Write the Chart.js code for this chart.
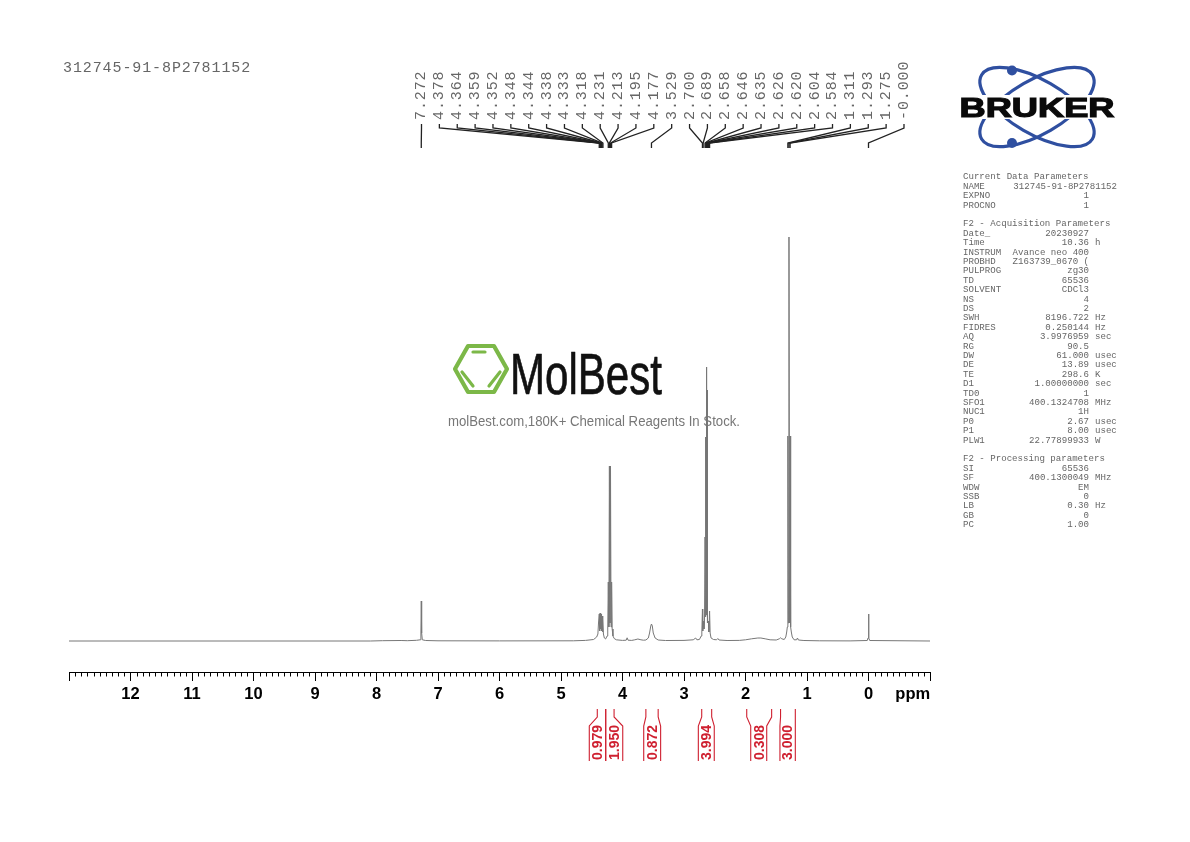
<!DOCTYPE html>
<html>
<head>
<meta charset="utf-8">
<style>html,body{margin:0;padding:0;background:#fff}canvas{display:block}</style>
<script src="https://cdn.jsdelivr.net/npm/chart.js@4/dist/chart.umd.min.js"></script>
</head>
<body>
<canvas id="c" width="1190" height="842" style="width:1190px;height:842px"></canvas>
<script>
const sampleName = "312745-91-8P2781152";
const spectrumPpm = [13,8.1,7.9,7.6,7.5,7.35,7.29,7.278,7.272,7.266,7.255,7.2,7.0,6.0,4.8,4.6,4.47,4.42,
 4.40,4.39,4.378,4.371,4.364,4.361,4.359,4.355,4.352,4.35,4.348,4.346,4.344,4.341,4.338,4.335,4.333,4.325,4.318,4.31,4.295,4.275,
 4.25,4.24,4.231,4.222,4.213,4.204,4.195,4.186,4.177,4.168,4.155,4.135,4.10,4.0,3.94,3.925,3.91,3.85,3.8,3.75,3.7,3.66,
 3.62,3.58,3.56,3.54,3.529,3.515,3.5,3.47,3.42,3.3,3.0,2.85,2.81,2.79,2.75,2.72,2.71,
 2.700,2.695,2.689,2.675,2.667,2.658,2.652,2.646,2.64,2.635,2.63,2.626,2.623,2.620,2.612,2.604,2.595,2.584,2.575,2.56,2.52,2.47,2.45,2.43,2.3,2.1,
 2.0,1.9,1.8,1.75,1.68,1.6,1.5,1.45,1.43,1.41,1.37,1.345,1.33,1.32,1.311,1.302,1.293,1.284,1.275,1.266,1.255,1.24,1.21,1.17,1.155,1.14,1.05,0.8,0.3,
 0.02,0.008,0.0,-0.008,-0.02,-1];
const spectrumIntensity = [0,0,0.3,0.5,0.3,0.7,1.2,8,40,8,1.2,0.5,0.2,0.1,0.2,0.6,1.5,4,
 7,18,27,10,28,14,28,12,27,12,26,12,27,11,26,10,25,9,22,7,3,2,
 5,12,59,14,175,18,175,14,59,12,5,2.5,1.2,0.6,0.8,3.2,0.8,0.6,1.2,2,1.2,0.8,
 1,3,8,15,17,15,8,3,1,0.5,0.6,1.2,3,1.2,1.5,5,9,
 32,10,20,12,18,104,24,204,26,274,28,251,24,131,18,20,9,30,8,3,1.5,1.2,2.5,1,0.5,0.6,
 1.2,2.2,3,3,2.2,1.2,1,2.2,3.2,2.2,1.5,4,9,14,205,18,404,18,205,14,9,4,1.2,1.2,3,1,0.5,0.2,0.1,
 0.5,3,27,3,0.5,0];

const axisTicks = [13,12,11,10,9,8,7,6,5,4,3,2,1,0,-1];
const unitLabel = "ppm";

const peakLabels = ["7.272","4.378","4.364","4.359","4.352","4.348","4.344","4.338","4.333","4.318","4.231","4.213","4.195","4.177","3.529","2.700","2.689","2.658","2.646","2.635","2.626","2.620","2.604","2.584","1.311","1.293","1.275","-0.000"];

const integralValues = ["0.979","1.950","0.872","3.994","0.308","3.000"];
const integralFrom   = [4.41,4.273,3.62,2.712,1.98,1.43];
const integralTo     = [4.273,4.137,3.42,2.55,1.575,1.19];
const bracketFrom    = [4.54,4.273,3.655,2.767,1.915,1.44];
const bracketTo      = [4.273,3.996,3.38,2.508,1.655,1.19];

const panelHead = ["Current Data Parameters"];
const panelLines = [
 ["NAME","312745-91-8P2781152","",186.4],
 ["EXPNO","1","",196],["PROCNO","1","",205.4],
 ["F2 - Acquisition Parameters",null,"",224],
 ["Date_","20230927","",233.4],["Time","10.36","h",242.8],["INSTRUM","Avance neo 400","",252.2],
 ["PROBHD","Z163739_0670 (","",261.6],["PULPROG","zg30","",271],["TD","65536","",280.4],
 ["SOLVENT","CDCl3","",289.8],["NS","4","",299.2],["DS","2","",308.6],["SWH","8196.722","Hz",318],
 ["FIDRES","0.250144","Hz",327.4],["AQ","3.9976959","sec",336.8],["RG","90.5","",346.2],
 ["DW","61.000","usec",355.6],["DE","13.89","usec",365],["TE","298.6","K",374.4],
 ["D1","1.00000000","sec",383.8],["TD0","1","",393.2],["SFO1","400.1324708","MHz",402.6],
 ["NUC1","1H","",412],["P0","2.67","usec",421.4],["P1","8.00","usec",430.8],["PLW1","22.77899933","W",440.2],
 ["F2 - Processing parameters",null,"",459],
 ["SI","65536","",468.4],["SF","400.1300049","MHz",477.8],["WDW","EM","",487.2],["SSB","0","",496.6],
 ["LB","0.30","Hz",506],["GB","0","",515.4],["PC","1.00","",524.8]
];

const ink = "#666";
const mono = '"Liberation Mono", monospace';
const sans = '"Liberation Sans", Arial, sans-serif';
const red = "#cf2030";

const decor = {
  id: "decor",
  beforeDatasetsDraw(chart){
    const ctx = chart.ctx;
    ctx.save();
    // MolBest watermark
    ctx.strokeStyle = "#7cb848"; ctx.lineJoin = "round"; ctx.lineCap = "round"; ctx.lineWidth = 4.2;
    ctx.beginPath();
    ctx.moveTo(455,369);ctx.lineTo(468,346);ctx.lineTo(494,346);ctx.lineTo(507,369);ctx.lineTo(494,392);ctx.lineTo(468,392);ctx.closePath();
    ctx.stroke();
    ctx.lineWidth = 3.2;
    ctx.beginPath();
    ctx.moveTo(473,352);ctx.lineTo(485,352);
    ctx.moveTo(462,372);ctx.lineTo(473,386);
    ctx.moveTo(500,372);ctx.lineTo(489,386);
    ctx.stroke();
    ctx.fillStyle = "#111"; ctx.strokeStyle = "#111"; ctx.lineWidth = 0.7;
    ctx.font = '58px ' + sans;
    ctx.textAlign = "left"; ctx.textBaseline = "alphabetic";
    const w = ctx.measureText("MolBest").width;
    ctx.save(); ctx.translate(510,394); ctx.scale(152/w,1); ctx.fillText("MolBest",0,0); ctx.strokeText("MolBest",0,0); ctx.restore();
    ctx.fillStyle = "#777";
    ctx.font = '13.8px ' + sans;
    ctx.textBaseline = "middle";
    ctx.fillText("molBest.com,180K+ Chemical Reagents In Stock.",448,422,292);
    ctx.restore();
  },
  afterDraw(chart){
    const ctx = chart.ctx, x = chart.scales.x, y = chart.scales.y;
    ctx.save();
    // minor ticks
    const axisPx = Math.round(y.getPixelForValue(-31));
    ctx.strokeStyle = "#000"; ctx.lineWidth = 1;
    ctx.beginPath();
    for (let i = -10; i <= 130; i++){
      if (i % 10 === 0) continue;
      const px = Math.round(x.getPixelForValue(i/10)) + 0.5;
      ctx.moveTo(px, axisPx); ctx.lineTo(px, axisPx + 4.5);
    }
    ctx.stroke();

    // sample name
    ctx.fillStyle = ink; ctx.textAlign = "left"; ctx.textBaseline = "middle";
    ctx.font = '15px ' + mono;
    ctx.letterSpacing = "0.9px";
    ctx.fillText(sampleName, 63, 68);

    // peak labels and leaders
    ctx.strokeStyle = "#222"; ctx.lineWidth = 1.3;
    peakLabels.forEach((t,i)=>{
      const lx = 421.5 + i*17.87, px = x.getPixelForValue(Math.abs(parseFloat(t)));
      ctx.beginPath();
      ctx.moveTo(lx,124);ctx.lineTo(lx,128);ctx.lineTo(px,143);ctx.lineTo(px,148);
      ctx.stroke();
      ctx.save();
      ctx.translate(lx,120); ctx.rotate(-Math.PI/2);
      ctx.textAlign = "left"; ctx.textBaseline = "middle";
      ctx.fillText(t,0,0);
      ctx.restore();
    });
    ctx.letterSpacing = "0px";

    // integrals
    ctx.strokeStyle = red; ctx.fillStyle = red; ctx.lineWidth = 1.1;
    integralValues.forEach((t,i)=>{
      const a = x.getPixelForValue(integralFrom[i]), b = x.getPixelForValue(integralTo[i]);
      const c = x.getPixelForValue(bracketFrom[i]), d = x.getPixelForValue(bracketTo[i]);
      ctx.beginPath();
      ctx.moveTo(a,709);ctx.lineTo(a,717);ctx.lineTo(c,726);ctx.lineTo(c,761);
      ctx.moveTo(b,709);ctx.lineTo(b,717);ctx.lineTo(d,726);ctx.lineTo(d,761);
      ctx.stroke();
      ctx.save();
      ctx.translate((c+d)/2,761); ctx.rotate(-Math.PI/2);
      ctx.font = 'bold 14px ' + sans;
      ctx.textAlign = "left"; ctx.textBaseline = "middle";
      ctx.fillText(t,1,1);
      ctx.restore();
    });

    // Bruker logo
    ctx.strokeStyle = "#2f4fa0"; ctx.lineWidth = 3.2;
    [Math.PI/6, -Math.PI/6].forEach(r=>{
      ctx.beginPath(); ctx.ellipse(1037,107,64,27,r,0,Math.PI*2); ctx.stroke();
    });
    ctx.fillStyle = "#2f4fa0";
    [[1012,70.5],[1012,143]].forEach(p=>{ctx.beginPath();ctx.arc(p[0],p[1],5,0,Math.PI*2);ctx.fill();});
    ctx.fillStyle = "#fff"; ctx.fillRect(955,95,165,24);
    ctx.fillStyle = "#0a0a0a"; ctx.strokeStyle = "#0a0a0a"; ctx.lineWidth = 1.2;
    ctx.font = 'bold 27px ' + sans; ctx.textAlign = "left"; ctx.textBaseline = "alphabetic";
    const bw = ctx.measureText("BRUKER").width;
    ctx.save(); ctx.translate(959.5,116.5); ctx.scale(155/bw,1);
    ctx.fillText("BRUKER",0,0); ctx.strokeText("BRUKER",0,0); ctx.restore();

    // parameter panel
    ctx.font = '9.1px ' + mono; ctx.fillStyle = "#666"; ctx.textBaseline = "middle";
    ctx.textAlign = "left"; ctx.fillText(panelHead[0],963,177);
    panelLines.forEach(l=>{
      ctx.textAlign = "left"; ctx.fillText(l[0],963,l[3]);
      if (l[1] !== null){
        ctx.textAlign = "right";
        ctx.fillText(l[1], l[0] === "NAME" ? 1117 : 1089, l[3]);
      }
      if (l[2]){ ctx.textAlign = "left"; ctx.fillText(l[2],1095,l[3]); }
    });
    ctx.restore();
  }
};

new Chart(document.getElementById("c"), {
  type: "line",
  data: { datasets: [{
    data: spectrumPpm.map((p,i)=>({x:p,y:spectrumIntensity[i]})),
    borderColor: "#777", borderWidth: 1, pointRadius: 0, tension: 0, fill: false
  }]},
  options: {
    responsive: false, animation: false, devicePixelRatio: 1,
    layout: { padding: { left: 69, right: 260, top: 55, bottom: 72 } },
    plugins: { legend: {display:false}, tooltip: {enabled:false}, title:{display:false} },
    scales: {
      x: {
        type: "linear", reverse: true, min: -1, max: 13,
        position: { y: -31 },
        border: { display:true, color:"#000", width:1 },
        grid: { display:true, drawOnChartArea:false, drawTicks:true, tickLength:8,
                tickColor: c => c.tick && c.tick.label === unitLabel ? "transparent" : "#000" },
        afterBuildTicks(s){ s.ticks = axisTicks.map(v=>({value:v})).concat([{value:-0.72}]); },
        ticks: { autoSkip:false, maxRotation:0, padding:5, color:"#000",
                 font:{family:"Liberation Sans", size:16.5, weight:"bold"},
                 callback(v){ if (v === -0.72) return unitLabel; return (v === 13 || v === -1) ? "" : String(v); } }
      },
      y: { type:"linear", display:false, min:-129, max:586 }
    }
  },
  plugins: [decor]
});
</script>
</body>
</html>
